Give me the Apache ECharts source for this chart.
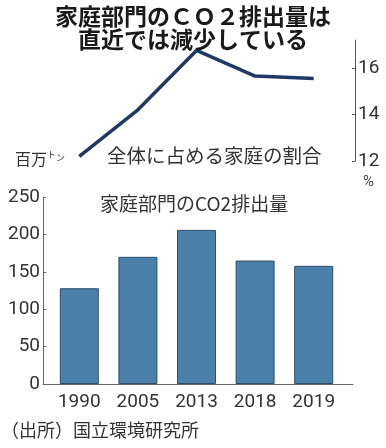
<!DOCTYPE html>
<html><head><meta charset="utf-8">
<script src="https://cdn.jsdelivr.net/npm/echarts@6/dist/echarts.min.js"></script>
<style>html,body{margin:0;padding:0;background:#fff;}#c{width:386px;height:448px;}</style>
</head><body><div id="c"></div>
<script>
const years = ['1990', '2005', '2013', '2018', '2019'];
const co2 = [128, 170, 206, 165, 158];
const share = [12.2, 14.2, 16.75, 15.65, 15.55];
const shareTicks = [12, 14, 16];

const chart = echarts.init(document.getElementById('c'));
const cjk = '"Noto Sans CJK JP", sans-serif';
const num = 'Roboto, "Liberation Sans", sans-serif';
chart.setOption({
  animation: false,
  title: [
    {text: '家庭部門のＣＯ２排出量は\n直近では減少している', left: 'center', top: 0,
     textStyle: {fontFamily: cjk, fontWeight: 'bold', fontSize: 23, lineHeight: 23, color: '#1a1a1a'}},
    {text: '全体に占める家庭の割合', left: 102, top: 141,
     textStyle: {fontFamily: cjk, fontWeight: 'normal', fontSize: 19.5, color: '#333'}},
    {text: '{a|百万}{b|ト}{c|ン}', left: 10, top: 145,
     textStyle: {fontWeight: 'normal', rich: {a: {fontFamily: cjk, fontWeight: 'normal', fontSize: 16, color: '#333'},
                        b: {fontFamily: cjk, fontWeight: 'normal', fontSize: 9, color: '#333', verticalAlign: 'top', padding: [0,0,8,0]},
                        c: {fontFamily: cjk, fontWeight: 'normal', fontSize: 9, color: '#333', padding: [0,0,2,0]}}}},
    {text: '%', left: 358, top: 170,
     textStyle: {fontFamily: num, fontWeight: 'normal', fontSize: 15, color: '#444'}},
    {text: '家庭部門のCO2排出量', left: 95, top: 189,
     textStyle: {fontFamily: cjk, fontWeight: 'normal', fontSize: 19, color: '#333'}},
    {text: '（出所）国立環境研究所', left: -4, top: 416,
     textStyle: {fontFamily: cjk, fontWeight: 'normal', fontSize: 18, color: '#333'}}
  ],
  grid: [
    {left: 50, width: 293, top: 40, height: 121},
    {left: 50, width: 293, top: 197, height: 187},
    {left: 43, width: 310, top: 197, height: 187}
  ],
  xAxis: [
    {type: 'category', gridIndex: 0, data: years, show: false, boundaryGap: true},
    {type: 'category', gridIndex: 1, data: years, boundaryGap: true,
     axisLine: {show: false}, axisTick: {show: false},
     axisLabel: {interval: 0, fontFamily: num, fontSize: 19, color: '#333', margin: 9}},
    {type: 'value', gridIndex: 2, min: 0, max: 1,
     axisLine: {show: true, lineStyle: {color: '#666', width: 1}},
     axisTick: {show: false}, axisLabel: {show: false}, splitLine: {show: false}}
  ],
  yAxis: [
    {type: 'value', gridIndex: 0, position: 'right', offset: 12, min: 12, max: 17.2,
     axisLine: {show: true, lineStyle: {color: '#555'}},
     axisTick: {show: true, inside: true, length: 3, customValues: shareTicks, lineStyle: {color: '#555'}},
     axisLabel: {customValues: shareTicks, fontFamily: num, fontSize: 19, color: '#333', margin: 3},
     splitLine: {show: false}},
    {type: 'value', gridIndex: 1, min: 0, max: 250, interval: 50, offset: 7,
     axisLine: {show: true, lineStyle: {color: '#666'}},
     axisTick: {show: true, inside: true, length: 3, lineStyle: {color: '#666'}},
     axisLabel: {fontFamily: num, fontSize: 19, color: '#333', margin: 3},
     splitLine: {show: false}},
    {type: 'value', gridIndex: 2, show: false, min: 0, max: 1}
  ],
  series: [
    {type: 'line', xAxisIndex: 0, yAxisIndex: 0, data: share, symbol: 'none',
     lineStyle: {color: '#1d3a66', width: 3.5}},
    {type: 'bar', xAxisIndex: 1, yAxisIndex: 1, data: co2, barWidth: 39,
     itemStyle: {color: '#4a80aa', borderColor: '#2b4e6c', borderWidth: 1}}
  ]
});
</script></body></html>
